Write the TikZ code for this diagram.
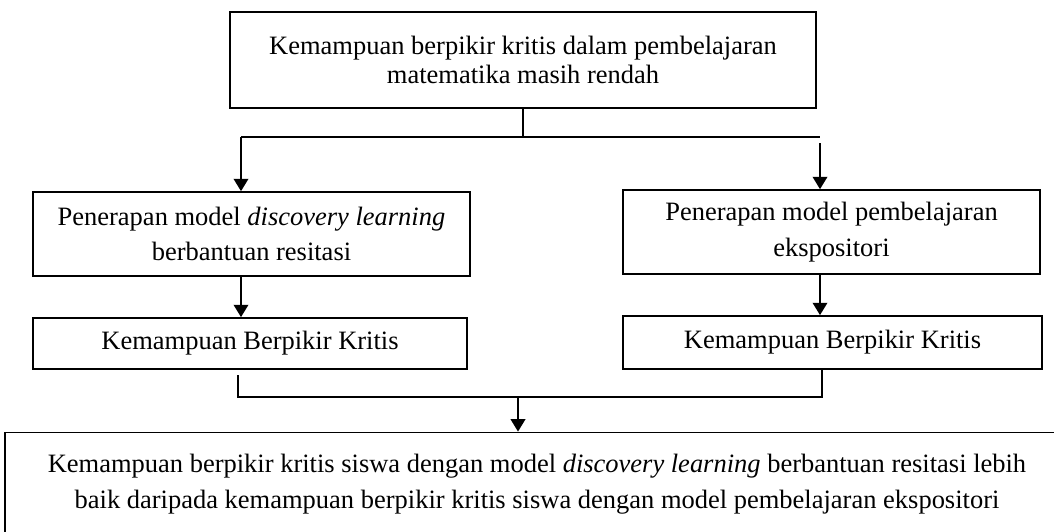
\documentclass[tikz,border=0pt]{standalone}
\usepackage{fontspec}
\setmainfont{Liberation Serif}
\usetikzlibrary{arrows.meta}

\begin{document}
\begin{tikzpicture}[x=0.453pt, y=-0.453pt,
    box/.style={draw, line width=0.8pt, align=center, inner sep=0pt,
      font=\fontsize{12}{16.1}\selectfont},
    link/.style={line width=0.8pt},
    arr/.style={line width=0.8pt, -{Triangle[length=5.6pt, width=6.6pt]}}]
  \useasboundingbox (0,0) rectangle (1054,531);

  % Problem statement
  \node[box, minimum width=265.5pt, minimum height=43.5pt,
    font=\fontsize{12}{13}\selectfont] (problem) at (523,60)
    {Kemampuan berpikir kritis dalam pembelajaran\\matematika masih rendah};

  % Two treatments
  \node[box, minimum width=198pt, minimum height=38pt] (discovery) at (251.5,234)
    {Penerapan model \textit{discovery learning}\\berbantuan resitasi};
  \node[box, minimum width=189pt, minimum height=38pt] (expository) at (831.5,232)
    {Penerapan model pembelajaran\\ekspositori};

  % Outcomes
  \node[box, minimum width=196.6pt, minimum height=23.1pt] (critA) at (250,343.5)
    {Kemampuan Berpikir Kritis};
  \node[box, minimum width=189.8pt, minimum height=24pt] (critB) at (832.5,342.5)
    {Kemampuan Berpikir Kritis};

  % Hypothesis (runs off the page on the right and bottom)
  \node[box, minimum width=482pt, minimum height=46.7pt,
    font=\fontsize{12}{16.3}\selectfont] (conclusion) at (537,484)
    {Kemampuan berpikir kritis siswa dengan model \textit{discovery learning} berbantuan resitasi lebih\\
     baik daripada kemampuan berpikir kritis siswa dengan model pembelajaran ekspositori};

  % Split below the problem
  \coordinate (splitL) at (241,137);
  \coordinate (splitR) at (820,137);
  \coordinate (splitRtop) at (820,143);
  \draw[link] (problem.south) -- (problem.south |- splitL);
  \draw[link] (splitL) -- (splitR);
  \draw[arr] (splitL) -- (splitL |- discovery.north);
  \draw[arr] (splitRtop) -- (splitR |- expository.north);

  % Treatment to outcome
  \draw[arr] (discovery.south -| splitL) -- (critA.north -| splitL);
  \draw[arr] (expository.south -| splitR) -- (critB.north -| splitR);

  % Join into the hypothesis
  \coordinate (joinL) at (238,397);
  \coordinate (joinLtop) at (238,375);
  \coordinate (joinR) at (822,397);
  \coordinate (joinM) at (518,397);
  \draw[link] (joinLtop) -- (joinL) -- (joinR) -- (joinR |- critB.south);
  \draw[arr] (joinM) -- (joinM |- conclusion.north);
\end{tikzpicture}
\end{document}
